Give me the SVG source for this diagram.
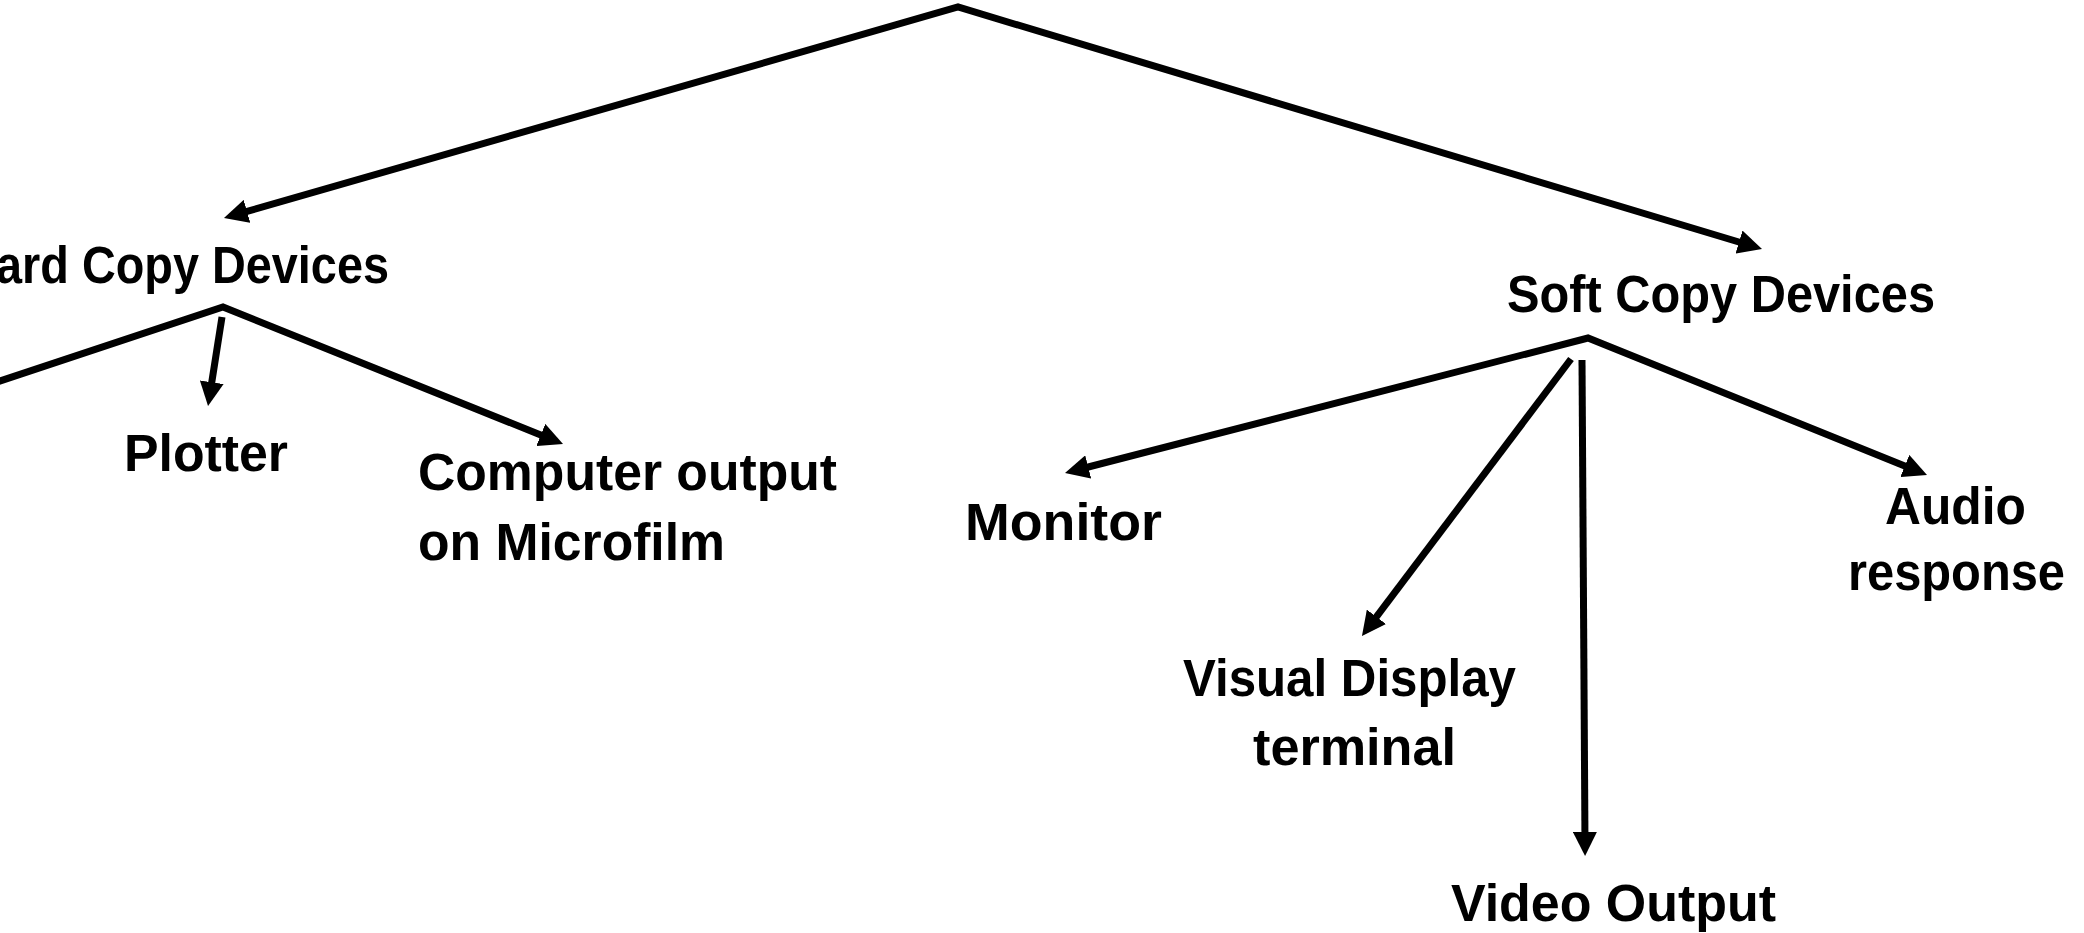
<svg xmlns="http://www.w3.org/2000/svg" width="2084" height="933" viewBox="0 0 2084 933">
<style>
text{font-family:"Liberation Sans",Arial,sans-serif;font-weight:bold;font-size:51px;fill:#000}
.c{fill:none;stroke:#000;stroke-width:7;stroke-linejoin:miter;stroke-miterlimit:20}
</style>
<defs>
<marker id="ah" viewBox="0 0 24 24" markerWidth="24" markerHeight="24" refX="12" refY="12" orient="auto-start-reverse" markerUnits="userSpaceOnUse">
<path d="M0,0 L24,12 L0,24 Z" fill="#000"/>
</marker>
</defs>
<rect width="2084" height="933" fill="#fff"/>
<g id="connectors">
<polyline class="c" points="235.5,214.7 958,7 1750.5,245.5" marker-start="url(#ah)" marker-end="url(#ah)"/>
<polyline class="c" points="-30,391 223,307 551.9,439.5" marker-end="url(#ah)"/>
<line class="c" x1="222" y1="317" x2="209.9" y2="394.1" marker-end="url(#ah)"/>
<polyline class="c" points="1076.6,470 1588,338 1915.9,470.5" marker-start="url(#ah)" marker-end="url(#ah)"/>
<line class="c" x1="1571" y1="359" x2="1369.2" y2="626.4" marker-end="url(#ah)"/>
<line class="c" x1="1582" y1="360" x2="1585" y2="844" marker-end="url(#ah)"/>
</g>
<g id="hard-copy"><text x="-4" y="283" textLength="393" lengthAdjust="spacingAndGlyphs">ard Copy Devices</text></g>
<g id="plotter"><text x="124" y="471" textLength="164" lengthAdjust="spacingAndGlyphs">Plotter</text></g>
<g id="com"><text x="418" y="490" textLength="419" lengthAdjust="spacingAndGlyphs">Computer output</text><text x="418" y="560" textLength="307" lengthAdjust="spacingAndGlyphs">on Microfilm</text></g>
<g id="soft-copy"><text x="1507" y="312" textLength="428" lengthAdjust="spacingAndGlyphs">Soft Copy Devices</text></g>
<g id="monitor"><text x="965" y="540" textLength="197" lengthAdjust="spacingAndGlyphs">Monitor</text></g>
<g id="audio"><text x="1885" y="524" textLength="141" lengthAdjust="spacingAndGlyphs">Audio</text><text x="1848" y="590" textLength="217" lengthAdjust="spacingAndGlyphs">response</text></g>
<g id="vdt"><text x="1183" y="696" textLength="333" lengthAdjust="spacingAndGlyphs">Visual Display</text><text x="1253" y="765" textLength="203" lengthAdjust="spacingAndGlyphs">terminal</text></g>
<g id="video"><text x="1451" y="921" textLength="325" lengthAdjust="spacingAndGlyphs">Video Output</text></g>
</svg>
